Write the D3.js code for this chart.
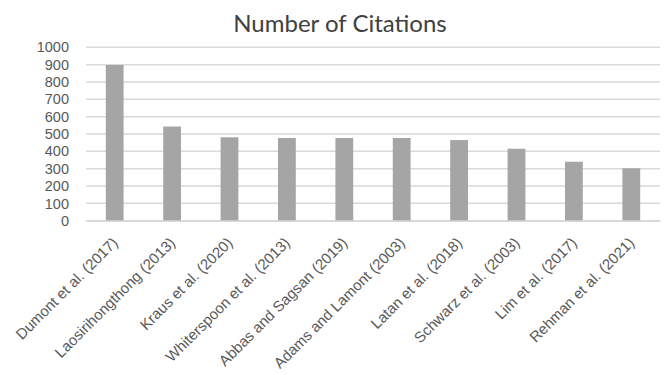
<!DOCTYPE html>
<html>
<head>
<meta charset="utf-8">
<script src="https://cdn.jsdelivr.net/npm/d3@7"></script>
<style>
  html, body { margin: 0; padding: 0; background: #fff; }
  svg { display: block; font-family: Lato, "Open Sans", sans-serif; }
</style>
</head>
<body>
<svg id="chart" width="672" height="375"></svg>
<script>
// Citation counts per publication
const authors = [
  "Dumont et al. (2017)",
  "Laosirihongthong (2013)",
  "Kraus et al. (2020)",
  "Whiterspoon et al. (2013)",
  "Abbas and Sagsan (2019)",
  "Adams and Lamont (2003)",
  "Latan et al. (2018)",
  "Schwarz et al. (2003)",
  "Lim et al. (2017)",
  "Rehman et al. (2021)"
];
const citations = [898, 543, 481, 477, 477, 477, 465, 415, 340, 302];
const yTicks = [0, 100, 200, 300, 400, 500, 600, 700, 800, 900, 1000];

const svg = d3.select("#chart");
const margin = { top: 47.3, right: 12, bottom: 154.3, left: 86 };
const W = 672, H = 375;
const innerW = W - margin.left - margin.right;
const innerH = H - margin.top - margin.bottom;

const g = svg.append("g").attr("transform", `translate(${margin.left},${margin.top})`);

const x = d3.scaleBand().domain(authors).range([0, innerW]).paddingInner(0.69).paddingOuter(0.345);
const y = d3.scaleLinear().domain([0, 1000]).range([innerH, 0]);

// Horizontal gridlines
g.append("g")
  .selectAll("line")
  .data(yTicks)
  .join("line")
  .attr("x1", 0).attr("x2", innerW)
  .attr("y1", d => y(d)).attr("y2", d => y(d))
  .attr("stroke", "#d9d9d9")
  .attr("stroke-width", 1.5);

// Y axis labels
const yAxis = d3.axisLeft(y).tickValues(yTicks).tickFormat(d3.format("d")).tickSize(0).tickPadding(17);
g.append("g").call(yAxis)
  .call(s => s.select(".domain").remove())
  .selectAll("text")
  .attr("fill", "#595959")
  .style("font-size", "14.5px");

// Bars
g.append("g")
  .selectAll("rect")
  .data(citations)
  .join("rect")
  .attr("x", (d, i) => x(authors[i]))
  .attr("y", d => y(d))
  .attr("width", x.bandwidth())
  .attr("height", d => innerH - y(d))
  .attr("fill", "#a5a5a5");

// X axis labels, rotated 45 degrees
const xAxis = d3.axisBottom(x).tickSize(0);
g.append("g")
  .attr("transform", `translate(0,${innerH})`)
  .call(xAxis)
  .call(s => s.select(".domain").attr("stroke", "#d9d9d9").attr("stroke-width", 1.5))
  .selectAll("text")
  .attr("fill", "#595959")
  .style("font-size", "15px")
  .attr("text-anchor", "end")
  .attr("x", 0).attr("y", 0).attr("dy", 0)
  .attr("transform", "translate(4,23) rotate(-45)");

// Title
svg.append("text")
  .attr("x", 340)
  .attr("y", 32)
  .attr("text-anchor", "middle")
  .attr("fill", "#404040")
  .style("font-size", "24px")
  .text("Number of Citations");
</script>
</body>
</html>
